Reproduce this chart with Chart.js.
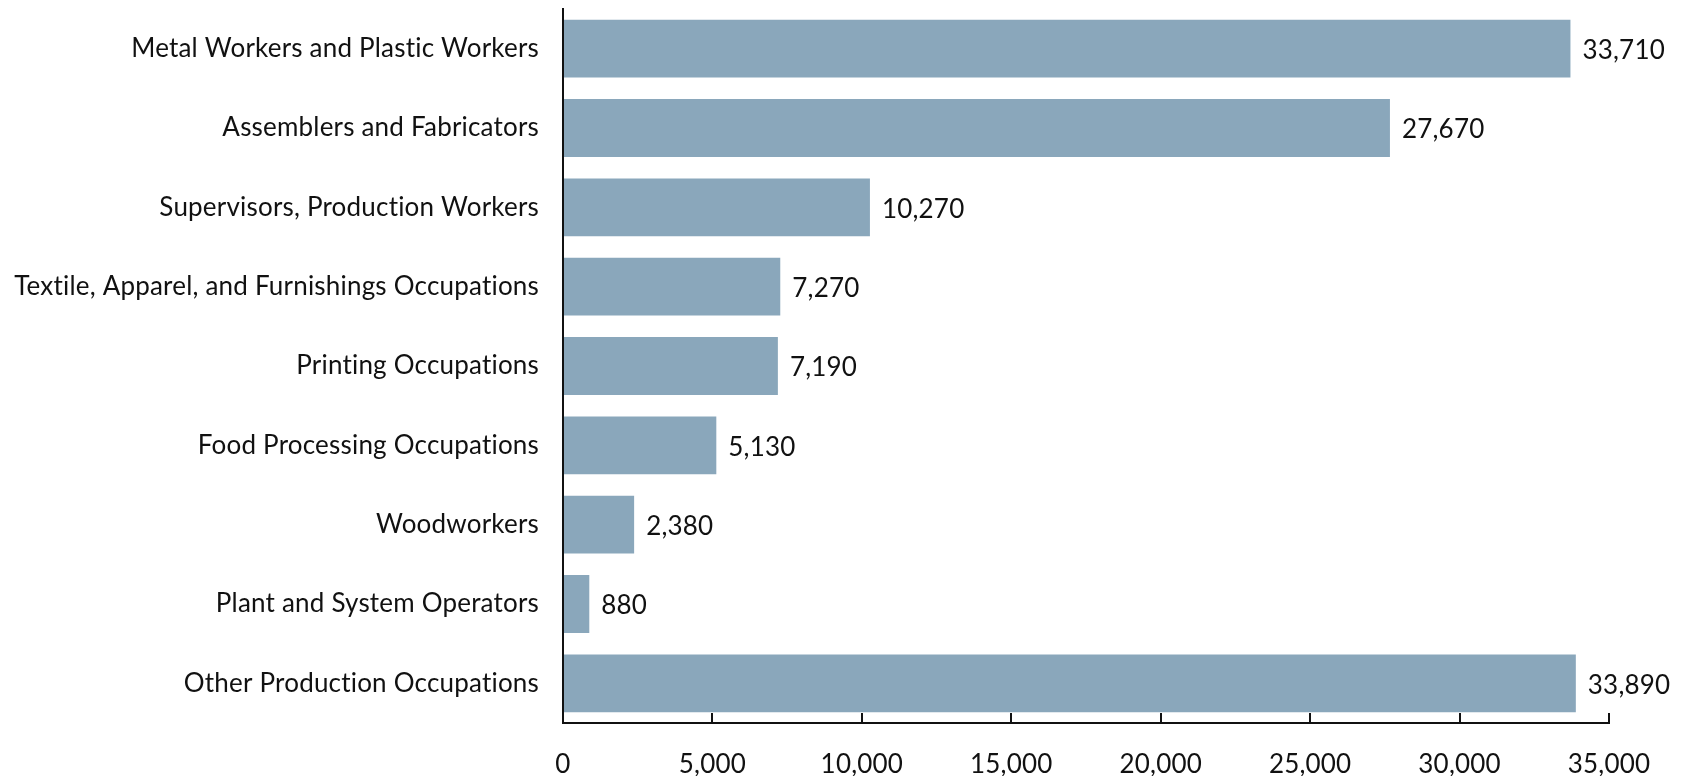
<!DOCTYPE html>
<html>
<head>
<meta charset="utf-8">
<script src="https://cdn.jsdelivr.net/npm/chart.js@4.4.1/dist/chart.umd.min.js"></script>
<style>
  body { margin: 0; background: #fff; }
  #wrap { width: 1686px; height: 776px; }
</style>
</head>
<body>
<div id="wrap"><canvas id="myChart"></canvas></div>
<script>
// Categorias e valores
const occupations = [
    "Metal Workers and Plastic Workers",
    "Assemblers and Fabricators",
    "Supervisors, Production Workers",
    "Textile, Apparel, and Furnishings Occupations",
    "Printing Occupations",
    "Food Processing Occupations",
    "Woodworkers",
    "Plant and System Operators",
    "Other Production Occupations"
];
const employment = [33710, 27670, 10270, 7270, 7190, 5130, 2380, 880, 33890];
const xTicks = [0, 5000, 10000, 15000, 20000, 25000, 30000, 35000];

const fontFamily = "Lato, 'Open Sans', sans-serif";

// Sem ligaduras ("ti") no texto do canvas
const noLigatures = {
    id: "noLigatures",
    beforeInit(chart) { chart.ctx.letterSpacing = "0.2px"; },
    beforeDraw(chart) { chart.ctx.letterSpacing = "0.2px"; }
};

// Rótulos de valor no fim de cada barra
const valueLabels = {
    id: "valueLabels",
    afterDatasetsDraw(chart) {
        const ctx = chart.ctx;
        const meta = chart.getDatasetMeta(0);
        ctx.save();
        ctx.font = "26px " + fontFamily;
        ctx.fillStyle = "#111";
        ctx.textAlign = "left";
        ctx.textBaseline = "middle";
        meta.data.forEach((bar, i) => {
            ctx.fillText(employment[i].toLocaleString("en-US"), bar.x + 12, bar.y + 2);
        });
        ctx.restore();
    }
};

new Chart("myChart", {
    type: "bar",
    data: {
        labels: occupations,
        datasets: [{
            data: employment,
            backgroundColor: "#8AA7BB",
            barPercentage: 0.73,
            categoryPercentage: 1
        }]
    },
    options: {
        indexAxis: "y",
        responsive: true,
        maintainAspectRatio: false,
        animation: false,
        layout: { padding: { top: 9, right: 77, bottom: 0, left: 0 } },
        plugins: {
            legend: { display: false },
            tooltip: { enabled: false }
        },
        scales: {
            x: {
                min: 0,
                max: 35000,
                afterBuildTicks(scale) {
                    scale.ticks = xTicks.map(v => ({ value: v }));
                },
                afterFit(scale) { scale.height = 53; },
                border: { display: true, color: "#111", width: 2 },
                grid: {
                    display: true,
                    drawOnChartArea: false,
                    drawTicks: true,
                    tickLength: -10,
                    color: "#111",
                    lineWidth: 2
                },
                ticks: {
                    padding: 36,
                    color: "#111",
                    font: { family: fontFamily, size: 26 },
                    maxRotation: 0,
                    callback: v => v.toLocaleString("en-US")
                }
            },
            y: {
                afterFit(scale) {
                    scale.width = 563;
                    scale.paddingTop = 0;
                    scale.paddingBottom = 0;
                },
                border: { display: true, color: "#111", width: 2 },
                grid: { display: false, drawTicks: false },
                ticks: {
                    padding: 24,
                    color: "#111",
                    font: { family: fontFamily, size: 26 }
                }
            }
        }
    },
    plugins: [noLigatures, valueLabels]
});
</script>
</body>
</html>
